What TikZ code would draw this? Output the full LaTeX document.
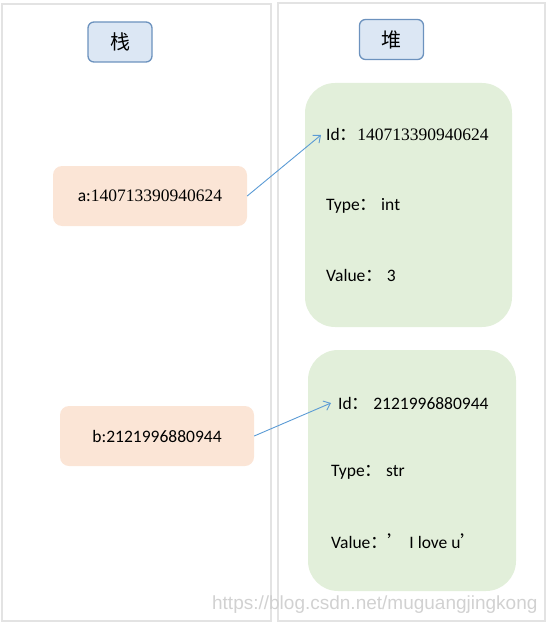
\documentclass[tikz,border=0pt]{standalone}
\usepackage{fontspec}
\setmainfont{Carlito}
\newfontfamily\cjkfont{Noto Sans CJK SC}
\newfontfamily\numfont{Liberation Serif}
\newfontfamily\markfont{Liberation Sans}
\usetikzlibrary{arrows.meta}

\definecolor{panelgray}{HTML}{E3E3E3}
\definecolor{titlefill}{HTML}{DCE7F4}
\definecolor{titleline}{HTML}{6C92BE}
\definecolor{varfill}{HTML}{FBE5D6}
\definecolor{objfill}{HTML}{E2EFDA}
\definecolor{refblue}{HTML}{5B9BD5}

\tikzset{
  panel/.style={draw=panelgray, line width=2pt},
  titlebox/.style={draw=titleline, fill=titlefill, line width=1.3pt, rounded corners=6pt,
    minimum width=64pt, minimum height=40pt, font=\fontsize{20}{24}\selectfont\cjkfont},
  varbox/.style={fill=varfill, rounded corners=9pt, minimum width=194pt, minimum height=60pt,
    font=\fontsize{17.5}{21}\selectfont},
  objbox/.style={fill=objfill, rounded corners=30pt},
  field/.style={anchor=west, inner sep=2pt, font=\fontsize{17.5}{21}\selectfont},
  ref/.style={draw=refblue, line width=0.9pt, -{Straight Barb[length=6pt,width=10pt]}}
}

\begin{document}
\begin{tikzpicture}[x=1pt, y=-1pt]
        \useasboundingbox (0,0) rectangle (548,623);

        % Stack and heap panels
        \draw[panel] (2,4) rectangle (271,621);
        \draw[panel] (278,3) rectangle (545,621);

        % Titles
        \node[titlebox] (stack) at (120,42) {栈};
        \node[titlebox] (heap) at (391.5,39.5) {堆};

        % Heap objects
        \node[objbox, minimum width=207pt, minimum height=244pt] (obj1) at (408.5,205) {};
        \node[objbox, minimum width=208pt, minimum height=241pt] (obj2) at (412,470.5) {};

        \node[field] (id1) at (324,135) {Id{\cjkfont ：}{\numfont 140713390940624}};
        \node[field] (type1) at (324,206) {Type{\cjkfont ：} int};
        \node[field] (val1) at (324,275) {Value{\cjkfont ：} 3};

        \node[field] (id2) at (336,403) {Id{\cjkfont ：} 2121996880944};
        \node[field] (type2) at (329,472) {Type{\cjkfont ：} str};
        \node[field] (val2) at (329,541) {Value{\cjkfont ：’} I love u{\cjkfont ’}};

        % Variables on the stack
        \node[varbox] (vara) at (150,196) {a:{\numfont 140713390940624}};
        \node[varbox] (varb) at (157,436) {b:2121996880944};

        % References
        \draw[ref] (vara.east) -- ([xshift=-3pt]id1.west);
        \draw[ref] (varb.east) -- ([xshift=-5pt]id2.west);

        % Watermark
        \node[anchor=east, text=black!18, font=\fontsize{19}{22}\selectfont\markfont] (mark) at (541,605) {https://blog.csdn.net/muguangjingkong};
\end{tikzpicture}
\end{document}
